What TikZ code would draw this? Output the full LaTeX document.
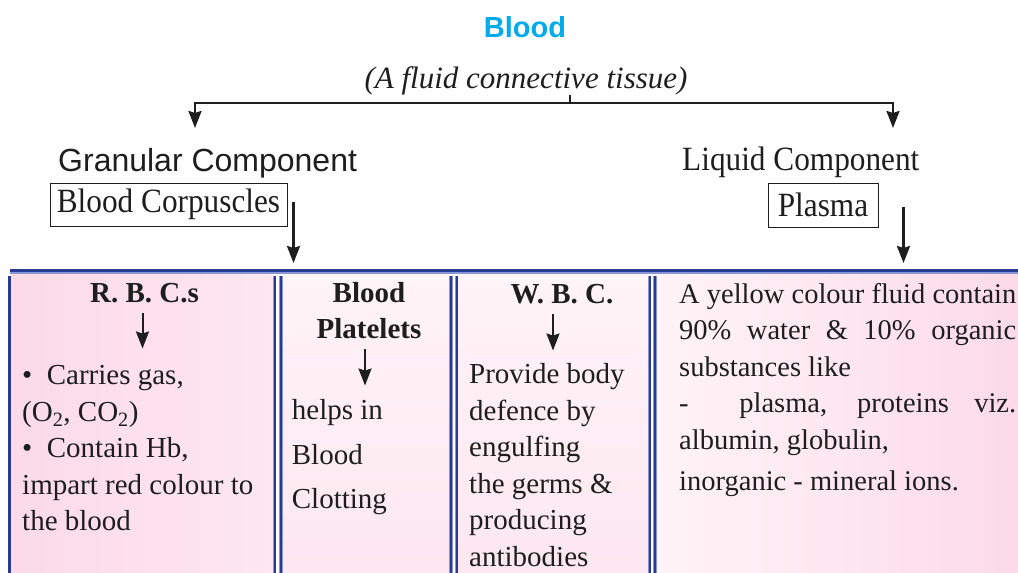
\documentclass[tikz,border=0pt]{standalone}
\usepackage{fontspec}
\setmainfont{Liberation Serif}
\setsansfont{Liberation Sans}
\newfontfamily\condserif[FakeStretch=0.92]{Liberation Serif}
\usetikzlibrary{arrows.meta}
\definecolor{ink}{RGB}{30,30,30}
\definecolor{tTitle}{RGB}{0,170,235}
\definecolor{rule}{RGB}{40,58,145}
\definecolor{ruleLt}{RGB}{135,150,210}
\definecolor{pkDeep}{RGB}{252,218,232}
\definecolor{pkMid}{RGB}{253,231,240}
\definecolor{pkLite}{RGB}{255,244,248}
\newcommand{\fs}[2]{\fontsize{#1}{#2}\selectfont}

\begin{document}
\begin{tikzpicture}[
  x=1pt, y=-1pt,
  >={Stealth[length=17pt, width=13pt, inset=2pt]},
  txt/.style={inner sep=0pt, text=ink, font=\fs{29}{36.5}},
  head/.style={txt, font=\fs{29}{36.5}\bfseries, align=center},
  body/.style={txt, align=left, anchor=north west},
  comp/.style={inner sep=0pt, text=ink, anchor=base west},
  tag/.style={draw=ink, line width=1pt, inner sep=0pt, text=ink, font=\condserif\fs{34}{40}},
  arr/.style={->, line width=2.4pt, draw=ink},
  darr/.style={->, line width=2pt, draw=ink, shorten <=10pt},
  edgeLt/.style={line width=3.6pt, draw=ruleLt},
  edgeDk/.style={line width=2pt, draw=rule},
]
\useasboundingbox (0,0) rectangle (1018,573);

% ---- title + split ----
\node[inner sep=0pt, anchor=base, text=tTitle, font=\sffamily\bfseries\fs{29}{34}] (TITLE) at (525,37) {Blood};
\node[txt, anchor=base, font=\itshape\fs{31}{36}] (SUB) at (526,88) {(A fluid connective tissue)};
\coordinate (split) at (570,103);
\coordinate (gcIn) at (195,128);
\coordinate (lcIn) at (893,128);
\draw[line width=2.4pt, draw=ink] (split |- SUB.south) -- (split);
\draw[arr] (split) -| (gcIn);
\draw[arr] (split) -| (lcIn);

% ---- the two components ----
\node[comp, font=\sffamily\fs{32}{38}] (GC) at (58,171.5) {Granular Component};
\node[comp, font=\condserif\fs{34}{40}] (LC) at (682,170.5) {Liquid Component};
\node[tag, minimum width=237pt, minimum height=43pt] (BC) at (168.5,204.5) {Blood Corpuscles};
\node[tag, minimum width=110pt, minimum height=44pt] (PL) at (823,205) {Plasma};

% ---- band: fills + rules ----
\shade[left color=pkDeep, right color=pkMid] (11,274) rectangle (273,573);
\shade[top color=pkLite, bottom color=pkMid] (283,274) rectangle (450,573);
\shade[top color=pkLite, bottom color=pkMid] (458,274) rectangle (648,573);
\shade[left color=pkLite, right color=pkDeep] (657,274) rectangle (1018,573);
\draw[line width=1.2pt, draw=ruleLt] (10,273) -- (1018,273);
\draw[line width=3pt, draw=rule] (10,270.5) -- (1018,270.5);
\draw[line width=3pt, draw=rule] (9.6,276) -- (9.6,573);
\foreach \x in {274.5,281,451,456.5,649.5,655} {
  \draw[edgeLt] (\x,276) -- (\x,573);
  \draw[edgeDk] (\x,276) -- (\x,573);
}
\coordinate (bandTop) at (0,263);

\draw[arr] ([xshift=6pt, yshift=3pt]BC.east) -- ([xshift=6pt]BC.east |- bandTop);
\draw[arr] ([xshift=25pt, yshift=-2pt]PL.east) -- ([xshift=25pt]PL.east |- bandTop);

% ---- R. B. C.s ----
\node[head, anchor=base] (RBC) at (144.5,302.7) {R. B. C.s};
\node[body] (RBCtxt) at (22,365.5) {%
  \textbullet\ \ Carries gas,\\
  (O\textsubscript{2}, CO\textsubscript{2})\\
  \textbullet\ \ Contain Hb,\\
  impart red colour to\\
  the blood};
\draw[darr, shorten >=17pt] ([xshift=-2pt]RBC.south) -- ([xshift=-2pt]RBC.south |- RBCtxt.north);

% ---- Blood Platelets ----
\node[head, anchor=north] (PLT) at (369,282) {Blood\\Platelets};
\node[body, font=\fs{29}{44.5}] (PLTtxt) at (291.7,399.5) {helps in\\Blood\\Clotting};
\draw[darr, shorten >=14pt] ([xshift=-4pt]PLT.south) -- ([xshift=-4pt]PLT.south |- PLTtxt.north);

% ---- W. B. C. ----
\node[head, anchor=base] (WBC) at (562,303) {W. B. C.};
\node[body] (WBCtxt) at (469,363.5) {%
  Provide body\\
  defence by\\
  engulfing\\
  the germs \&\\
  producing\\
  antibodies};
\draw[darr, shorten >=13pt] ([xshift=-9pt]WBC.south) -- ([xshift=-9pt]WBC.south |- WBCtxt.north);

% ---- plasma text ----
\node[body, font=\fs{28.5}{36.5}] (PLtxt) at (679,283) {%
  A yellow colour fluid contain\\
  \makebox[337pt][s]{90\% water \& 10\% organic}\\
  substances like\\
  \makebox[337pt][s]{- \ plasma, proteins viz.}\\
  albumin, globulin,\\[5pt]
  inorganic - mineral ions.};

\end{tikzpicture}
\end{document}
